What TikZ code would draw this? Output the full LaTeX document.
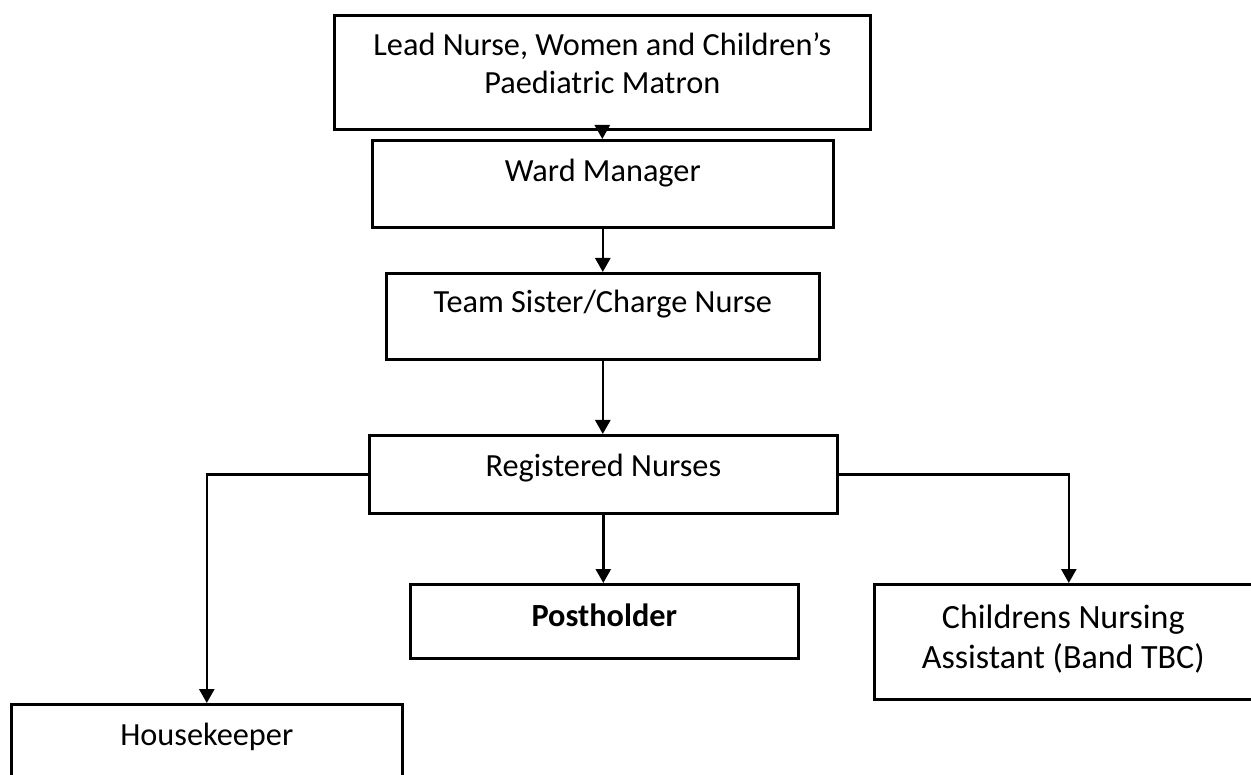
\documentclass[tikz,border=0pt]{standalone}
\usepackage{fontspec}
\setmainfont{Carlito}
\usetikzlibrary{arrows.meta}
\begin{document}
\begin{tikzpicture}[x=1pt,y=-1pt,
  box/.style={draw=black,line width=2.6pt,rectangle,inner sep=0pt,anchor=north west},
  lbl/.style={anchor=base,inner sep=0pt,font=\fontsize{32.3}{39}\selectfont},
  lblbig/.style={anchor=base,inner sep=0pt,font=\fontsize{34}{41}\selectfont},
  conn/.style={line width=2.6pt,-{Triangle[length=14pt,width=15pt]}}]
\useasboundingbox (0,0) rectangle (1251,775);
\clip (0,0) rectangle (1251,775);
% boxes
\node[box,minimum width=536pt,minimum height=114pt] (top) at (333,14) {};
\node[box,minimum width=461pt,minimum height=87pt] (wm) at (371,139) {};
\node[box,minimum width=433pt,minimum height=86pt] (ts) at (385,272) {};
\node[box,minimum width=468pt,minimum height=78pt] (rn) at (368,434) {};
\node[box,minimum width=388pt,minimum height=74pt] (ph) at (409,583) {};
\node[box,minimum width=378pt,minimum height=115pt] (cna) at (873,583) {};
\node[box,minimum width=391pt,minimum height=100pt] (hk) at (10,703) {};
% texts
\node[lbl] (top-t1) at ([yshift=-42pt]top.north) {Lead Nurse, Women and Children’s};
\node[lbl] (top-t2) at ([yshift=-80pt]top.north) {Paediatric Matron};
\node[lbl] (wm-t) at ([yshift=-43pt]wm.north) {Ward Manager};
\node[lbl] (ts-t) at ([yshift=-41pt]ts.north) {Team Sister/Charge Nurse};
\node[lbl] (rn-t) at ([yshift=-43pt]rn.north) {Registered Nurses};
\node[lbl,font=\fontsize{32.3}{39}\selectfont\bfseries] (ph-t) at ([yshift=-43pt]ph.north) {Postholder};
\node[lblbig] (cna-t1) at ([yshift=-45pt]cna.north) {Childrens Nursing};
\node[lblbig] (cna-t2) at ([yshift=-85pt]cna.north) {Assistant (Band TBC)};
\node[lbl] (hk-t) at ([yshift=-42pt]hk.north) {Housekeeper};
% connectors
\draw[conn] (top.south) -- (top.south |- wm.north);
\draw[conn] (wm.south) -- (wm.south |- ts.north);
\draw[conn] (ts.south) -- (ts.south |- rn.north);
\draw[conn] (rn.south) -- (rn.south |- ph.north);
\draw[conn] (rn.west) -| (hk.north);
\draw[conn] (rn.east) -| ([xshift=5.5pt]cna.north);
\end{tikzpicture}
\end{document}
